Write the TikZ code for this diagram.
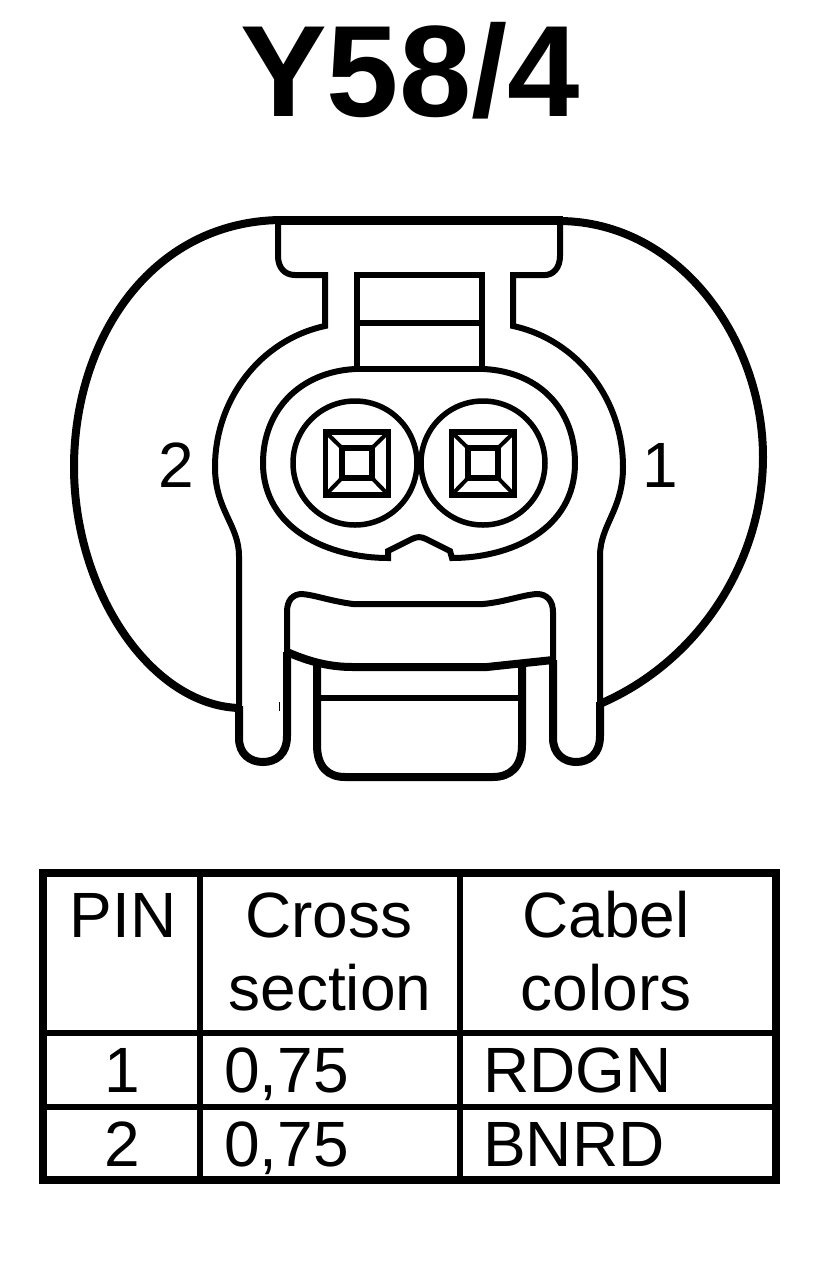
\documentclass[tikz,border=0pt]{standalone}
\usepackage{fontspec}
\setmainfont{Liberation Sans}
\usetikzlibrary{positioning}
\tikzset{
x=1pt, y=-1pt, % one unit is one pixel of the drawing, y runs downwards
line join=round,
outline/.style={line width=8pt}, % the housing round the plug
wall/.style={line width=6pt}, % the thinner walls of the plug
thickwall/.style={line width=8pt},
gridline/.style={line width=6pt}, % inner lines of the table
pinring/.style={circle, draw, line width=5.5pt, minimum size=124pt, inner sep=0pt, outer sep=0pt},
pinsquare/.style={rectangle, draw, line width=5.5pt, minimum size=63pt, inner sep=0pt, outer sep=0pt},
pincore/.style={rectangle, draw, line width=5.5pt, minimum size=30pt, inner sep=0pt, outer sep=0pt},
title/.style={anchor=base, inner sep=0pt, font=\fontsize{130}{130}\selectfont\bfseries},
cell/.style={anchor=base, inner sep=0pt, font=\fontsize{64}{64}\selectfont},
cellleft/.style={cell, anchor=base west},
}

\begin{document}
\begin{tikzpicture}
    \useasboundingbox (0,0) rectangle (832,1262);

    \node[title] (name) at (410,116) {Y58/4};

    % housing
    \draw[outline] (280,220) .. controls (150,222) and (74,340) .. (74,467) .. controls (74,590) and (150,705) .. (239,708);
    \draw[outline] (560,221) .. controls (680,222) and (763,340) .. (763,457) .. controls (763,560) and (700,660) .. (602,703);
    \draw[line width=9pt] (278,220) -- (563,220);

    % tab and inner walls
    \draw[wall] (278,220) -- (278,256) .. controls (278,268) and (285,275) .. (295,275) -- (325,275) -- (325,326) .. controls (260,340) and (215,400) .. (215,467) .. controls (215,510) and (239,525) .. (239,556) -- (239,708);
    \draw[wall] (560,220) -- (560,256) .. controls (560,268) and (553,275) .. (545,275) -- (513,275) -- (513,326) .. controls (578,340) and (623,400) .. (623,467) .. controls (623,510) and (600,525) .. (600,556) -- (600,703);

    % seat of the latch
    \draw[wall] (357,370) -- (357,275) -- (482,275) -- (482,370);
    \draw[wall] (357,323) -- (482,323);
    \draw[line width=6.5pt] (353,369) -- (486,369);
    \draw[wall] (355,369) .. controls (300,372) and (263,410) .. (263,463) .. controls (263,530) and (330,558) .. (388,558) -- (388,551) -- (412,539) .. controls (417,536.5) and (421,536.5) .. (426,539) -- (450,551) -- (452,558) .. controls (510,558) and (575,530) .. (575,463) .. controls (575,410) and (540,372) .. (484,369);

    % pins
    \foreach \pinname/\posx in {two/355, one/483}{
        \node[pinring] (ring\pinname) at (\posx,463) {};
    }
    \foreach \pinname/\posx in {two/357, one/483}{
        \node[pinsquare] (sq\pinname) at (\posx,463.5) {};
        \node[pincore] (core\pinname) at (\posx,463) {};
        \foreach \corner in {north west, north east, south west, south east}{
            \draw[line width=4pt] (sq\pinname.\corner) -- (core\pinname.\corner);
        }
    }

    % legs and lower latch
    \draw[thickwall] (239,706) -- (239,738) .. controls (239,754) and (250,762) .. (263,762) .. controls (276,762) and (287,754) .. (287,736) -- (287,652);
    \draw[thickwall] (553,660) -- (553,738) .. controls (553,754) and (564,762) .. (576,762) .. controls (589,762) and (600,754) .. (600,736) -- (600,702);
    \draw[thickwall] (287,652) .. controls (310,662) and (330,667) .. (353,667) -- (487,667) -- (553,660);
    \draw[wall] (287,652) -- (287,612) .. controls (287,600) and (293,594) .. (302,594) .. controls (315,595) and (330,601) .. (353,604) -- (483,604) .. controls (505,602) and (522,595) .. (537,594) .. controls (547,594) and (553,601) .. (553,612) -- (553,660);
    \draw[thickwall] (317,664) -- (317,745) .. controls (317,767) and (328,777) .. (345,777) -- (493,777) .. controls (510,777) and (522,767) .. (522,745) -- (522,664);
    \draw[wall] (317,698) -- (522,698);
    \draw[line width=1pt] (279,702) -- (279,711);

    % pin numbers
    \node[cell] (label2) at (176,487) {2};
    \node[cell] (label1) at (660,487) {1};

    % table
    \draw[outline] (43,873) rectangle (776,1180);
    \draw[gridline] (200,873) -- (200,1180);
    \draw[gridline] (460,873) -- (460,1180);
    \draw[gridline] (43,1033) -- (776,1033);
    \draw[gridline] (43,1107) -- (776,1107);

    \node[cell] (pinhead) at (123,937) {PIN};
    \node[cell] (crosshead) at (329,937) {Cross};
    \node[cell] (sectionhead) at (330,1010) {section};
    \node[cell] (cabelhead) at (606,937) {Cabel};
    \node[cell] (colorhead) at (606,1010) {colors};

    \node[cell] (pinone) at (122,1092) {1};
    \node[cell] (pintwo) at (122,1166) {2};
    \node[cellleft] (crossone) at (224,1092) {0,75};
    \node[cellleft] (crosstwo) at (224,1166) {0,75};
    \node[cellleft] (colorone) at (483,1092) {RDGN};
    \node[cellleft] (colortwo) at (483,1166) {BNRD};
\end{tikzpicture}
\end{document}
